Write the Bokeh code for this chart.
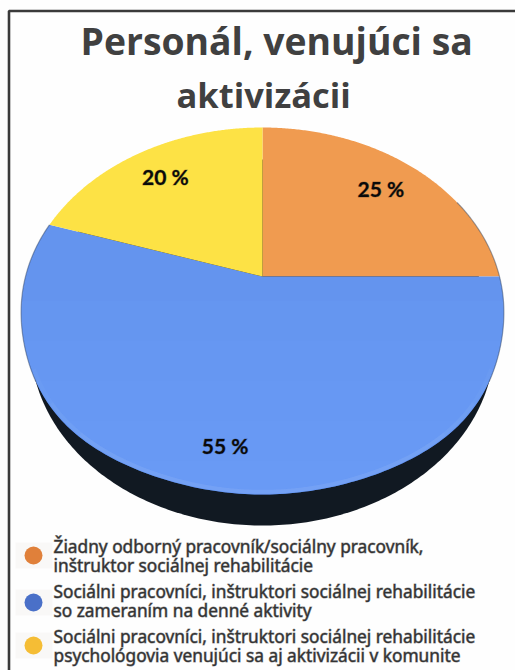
import numpy as np
from bokeh.plotting import figure
from bokeh.models import Range1d
from bokeh.core.properties import value
from bokeh.embed import file_html
from bokeh.resources import INLINE

TITLE_LINES = ["Personál, venujúci sa", "aktivizácii"]
SHARES = [25, 55, 20]
SHARE_LABELS = ["25 %", "55 %", "20 %"]
SLICE_COLORS = ["#f09b50", "#6494ee", "#fde245"]
LEGEND_COLORS = ["#e0803a", "#4a70c8", "#f5bd35"]
LEGEND_TEXTS = [
    ["Žiadny odborný pracovník/sociálny pracovník,", "inštruktor sociálnej rehabilitácie"],
    ["Sociálni pracovníci, inštruktori sociálnej rehabilitácie", "so zameraním na denné aktivity"],
    ["Sociálni pracovníci, inštruktori sociálnej rehabilitácie", "psychológovia venujúci sa aj aktivizácii v komunite"],
]

W, H = 515, 670

# Tilted disc: perspective projection of the unit circle onto the page.
CX, CY = 262.0, 276.0
SX, SY, TILT = 237.0, 177.0, 0.188
NEAR_BULGE = 0.3


def project(r, theta):
    """theta is measured clockwise from twelve o'clock."""
    X, Y = r * np.sin(theta), r * np.cos(theta)
    a = np.clip(-Y, 0, 1)
    X = X * (1 + NEAR_BULGE * a**4 * (1 - a**2))
    w = 1 + TILT * Y
    return CX + SX * X / w, CY - SY * Y / w


p = figure(width=W, height=H, x_range=Range1d(0, W), y_range=Range1d(H, 0),
           output_backend="svg", toolbar_location=None, min_border=0,
           background_fill_color="#fefefe", border_fill_color="#fefefe")
p.axis.visible = False
p.grid.visible = False
p.outline_line_color = None

# Frame: top and left rules only
p.line([8.5, 8.5, W], [H, 10.5, 10.5], line_color="#3a3a3a", line_width=2.6)

# Underside of the disc, narrower than the top face and pushed down
t = np.linspace(0, 2 * np.pi, 361)
p.patch(CX + 232 * np.cos(t), 342 + 183 * np.sin(t), fill_color="#111922", line_color=None)

# Slices, cumulated clockwise from twelve o'clock
edges = np.cumsum([0] + SHARES) / sum(SHARES) * 2 * np.pi
for i, color in enumerate(SLICE_COLORS):
    arc = np.linspace(edges[i], edges[i + 1], 200)
    ax, ay = project(1.0, arc)
    px, py = np.r_[CX, ax], np.r_[CY, ay]
    p.patch(px, py, fill_color=color, line_color=None)
    if i == 1:
        # The large slice brightens gradually towards the viewer
        for cut in [300, 340, 380, 420, 460]:
            p.patch(px, np.maximum(py, cut), fill_color="#70a6ff",
                    fill_alpha=0.14, line_color=None)

# Pale bevel along the near edge and a thin dark line along the far sides
for lo, hi, alpha in [(0.66, 1.34, 0.06), (0.72, 1.28, 0.07), (0.78, 1.22, 0.07)]:
    nx, ny = project(0.99, np.linspace(np.pi * lo, np.pi * hi, 120))
    p.line(nx, ny, line_color="#a8cbff", line_alpha=alpha, line_width=4)
for lo, hi in [(0.35, 0.68), (1.32, 1.6)]:
    sx, sy = project(1.0, np.linspace(np.pi * lo, np.pi * hi, 60))
    p.line(sx, sy, line_color="#2c3e5c", line_alpha=0.45, line_width=1.2)

# Value labels sit along each slice's middle angle
LABEL_RADIUS = [0.78, 0.82, 0.78]
mids = (edges[:-1] + edges[1:]) / 2
lx, ly = project(np.array(LABEL_RADIUS), mids)
p.text(lx, ly, text=SHARE_LABELS, text_font=value("Lato"), text_font_style="bold",
       text_font_size="21px", text_color="#0a0a0a", text_outline_color="#0a0a0a50",
       text_align="center", text_baseline="middle")

# Title
p.text([80], [40], text=TITLE_LINES[:1], text_font=value("Open Sans"),
       text_font_style="bold", text_font_size="37.3px", text_color="#404040",
       text_align="left", text_baseline="alphabetic")
p.text([176], [94], text=TITLE_LINES[1:], text_font=value("Open Sans"),
       text_font_style="bold", text_font_size="34.5px", text_color="#404040",
       text_align="left", text_baseline="alphabetic")

# Legend
for i, (color, lines) in enumerate(zip(LEGEND_COLORS, LEGEND_TEXTS)):
    y0 = [546, 591, 636][i]
    cy = [555, 602, 645][i]
    p.quad(left=[15], right=[52], top=[cy - 13], bottom=[cy + 13],
           fill_color="#f9f8f7", line_color=None)
    p.scatter([33], [cy], size=18, marker="circle", fill_color=color, line_color=None)
    p.text([53, 53], [y0, y0 + 19], text=lines, text_font=value("Noto Sans"),
           text_font_size="17.3px", text_color="#333333", text_outline_color="#33333380",
           text_align="left", text_baseline="middle")

open("out.html", "w").write(file_html(p, INLINE))
